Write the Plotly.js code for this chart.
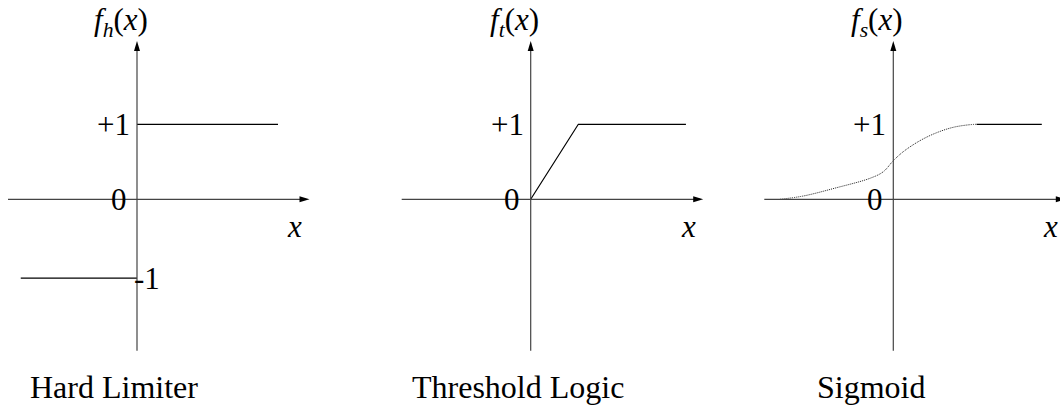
<!DOCTYPE html>
<html>
<head>
<meta charset="utf-8">
<script src="https://cdn.plot.ly/plotly-3.0.1.min.js"></script>
<style>
    html, body { margin: 0; padding: 0; background: #fff; }
    #plot { width: 1060px; height: 405px; }
</style>
</head>
<body>
<div id="plot"></div>
<script>
// Axis extents (same in all three panels)
const axisX = [-1.72, 2.30];
const axisY = [-2.02, 2.11];

// Hard limiter: two flat pieces, gap at the jump
const hardX = [-1.55, 0, null, 0, 1.88];
const hardY = [-1.05, -1.05, null, 1, 1];

// Threshold logic: ramp then saturation
const rampX = [0, 0.635, 2.07];
const rampY = [0, 1, 1];

// Sigmoid: curved part (thin) and saturated part
const sigX = [-1.51, -1.2, -0.755, -0.311, -0.133, 0, 0.133, 0.356, 0.578, 0.8, 1.022, 1.111];
const sigY = [0, 0.044, 0.155, 0.28, 0.368, 0.515, 0.635, 0.782, 0.888, 0.96, 0.995, 1];
const satX = [1.111, 1.98];
const satY = [1, 1];

// Labels
const yLabels = ['<i>f</i><sub><i>h</i></sub>(<i>x</i>)', '<i>f</i><sub><i>t</i></sub>(<i>x</i>)', '<i>f</i><sub><i>s</i></sub>(<i>x</i>)'];
const captions = ['Hard Limiter', 'Threshold Logic', 'Sigmoid'];
const captionX = [-0.313, -0.163, -0.297];

const FONT = '"Liberation Serif", "Times New Roman", serif';
const INK = '#000';
const AXIS_INK = '#444';

// pixel layout: origin of each panel and its slice of the page
const W = 1060, H = 405, UNIT = 75, ORIGIN_Y = 199.3;
const origins = [137, 530.7, 893.3];
const slices = [[0, 340], [340, 720], [720, 1060]];

function renderActivations() {
    const traces = [
        { x: hardX, y: hardY, xaxis: 'x', yaxis: 'y', mode: 'lines', line: { color: INK, width: 1.2 } },
        { x: rampX, y: rampY, xaxis: 'x2', yaxis: 'y2', mode: 'lines', line: { color: INK, width: 1.2 } },
        { x: sigX, y: sigY, xaxis: 'x3', yaxis: 'y3', mode: 'lines', line: { color: '#222', width: 1, dash: '1px,1px', shape: 'spline' } },
        { x: satX, y: satY, xaxis: 'x3', yaxis: 'y3', mode: 'lines', line: { color: INK, width: 1.2 } }
    ];
    traces.forEach(t => { t.hoverinfo = 'skip'; t.showlegend = false; t.cliponaxis = false; });

    const layout = {
        width: W, height: H, autosize: false,
        margin: { l: 0, r: 0, t: 0, b: 0 },
        paper_bgcolor: '#fff', plot_bgcolor: 'rgba(0,0,0,0)',
        showlegend: false,
        shapes: [], annotations: []
    };

    const yRange = [-(H - ORIGIN_Y) / UNIT, ORIGIN_Y / UNIT];

    for (let i = 0; i < 3; i++) {
        const n = i === 0 ? '' : String(i + 1);
        const xr = 'x' + n, yr = 'y' + n;
        const [p0, p1] = slices[i];
        layout['xaxis' + n] = {
            domain: [p0 / W, p1 / W],
            range: [(p0 - origins[i]) / UNIT, (p1 - origins[i]) / UNIT],
            visible: false, fixedrange: true, anchor: yr
        };
        layout['yaxis' + n] = {
            domain: [0, 1], range: yRange,
            visible: false, fixedrange: true, anchor: xr
        };

        // axis lines
        layout.shapes.push({ type: 'line', xref: xr, yref: yr, x0: axisX[0], x1: axisX[1] - 0.05, y0: 0, y1: 0, line: { color: AXIS_INK, width: 1.2 } });
        layout.shapes.push({ type: 'line', xref: xr, yref: yr, x0: 0, x1: 0, y0: axisY[0], y1: axisY[1] - 0.05, line: { color: AXIS_INK, width: 1.2 } });
        // arrow heads
        layout.shapes.push({ type: 'path', xref: xr, yref: yr, xsizemode: 'pixel', ysizemode: 'pixel',
            xanchor: axisX[1], yanchor: 0, path: 'M0,0 L-10,3 L-10,-3 Z', fillcolor: INK, line: { width: 0 } });
        layout.shapes.push({ type: 'path', xref: xr, yref: yr, xsizemode: 'pixel', ysizemode: 'pixel',
            xanchor: 0, yanchor: axisY[1], path: 'M0,0 L-3,-10 L3,-10 Z', fillcolor: INK, line: { width: 0 } });

        const txt = (text, x, y, xanchor, size) => ({
            text: text, x: x, y: y, xref: xr, yref: yr, showarrow: false,
            xanchor: xanchor || 'center', yanchor: 'middle',
            font: { family: FONT, size: size || 31, color: INK }
        });
        layout.annotations.push(txt(yLabels[i], -0.22, 2.37));
        layout.annotations.push(txt('<i>x</i>', 2.10, -0.361));
        layout.annotations.push(txt('+1', -0.067, 1, 'right'));
        layout.annotations.push(txt('0', -0.11, 0, 'right'));
        layout.annotations.push(txt(captions[i], captionX[i], -2.503, 'center', 32));
        if (i === 0) layout.annotations.push(txt('-1', -0.067, hardY[0], 'left'));
    }

    Plotly.newPlot('plot', traces, layout, { staticPlot: true, displayModeBar: false });
}

renderActivations();
</script>
</body>
</html>
